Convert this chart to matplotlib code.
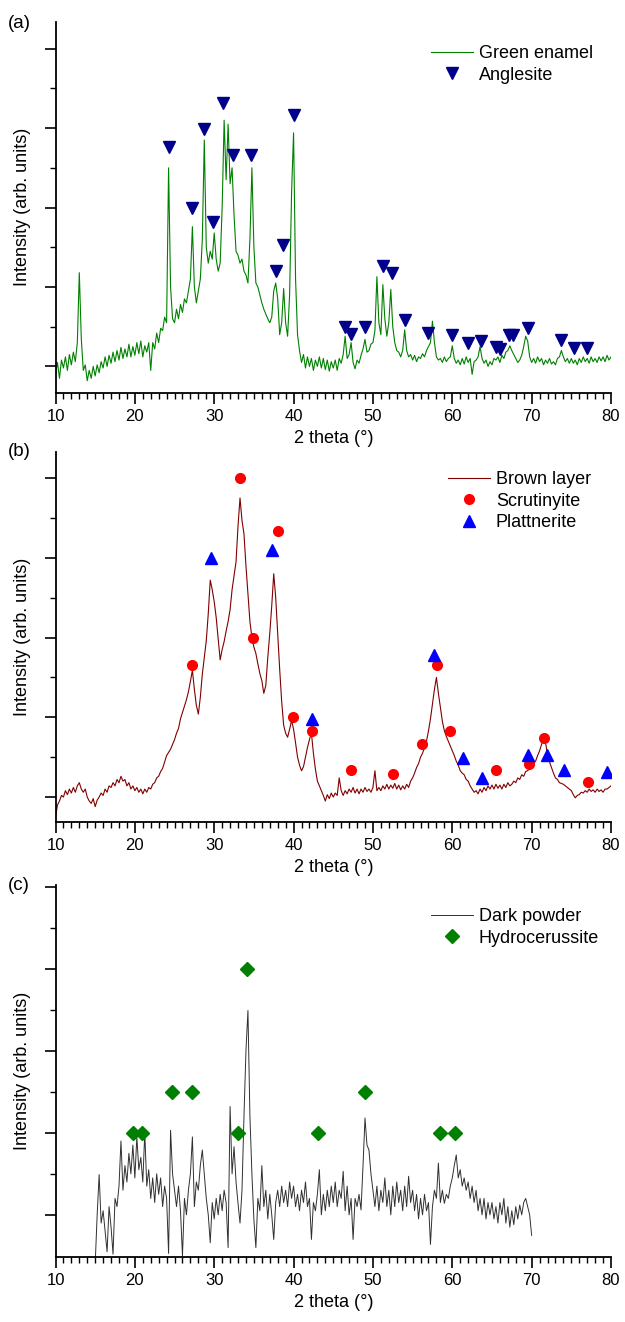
import matplotlib.pyplot as plt
import numpy as np

plt.rcParams['font.family'] = ['Liberation Sans', 'DejaVu Sans']

# 2 theta sampling of the read-off patterns (0.25 deg steps)
theta_ab = np.arange(10, 80.001, 0.25)
theta_c = np.arange(15, 70.001, 0.25)

# (a) Green enamel, 10..80 deg
green_enamel = [
    -0.10, 0.05, -0.15, 0.08, -0.02, 0.12, -0.05, 0.15, 0.02, 0.18, 0.06, 0.30, 1.18, 0.35, -0.05, 0.02, -0.18, -0.05, -0.15, 0.00,
    -0.12, 0.02, -0.08, 0.06, -0.02, 0.12, 0.00, 0.14, 0.04, 0.18, 0.06, 0.20, 0.08, 0.24, 0.10, 0.22, 0.12, 0.28, 0.12, 0.25,
    0.14, 0.30, 0.16, 0.32, 0.12, 0.26, 0.18, 0.30, -0.05, 0.30, 0.22, 0.42, 0.30, 0.48, 0.45, 0.62, 0.55, 2.50, 1.00, 0.60,
    0.55, 0.72, 0.60, 0.78, 0.68, 0.85, 0.80, 0.95, 1.10, 1.76, 1.00, 0.80, 0.95, 1.10, 1.60, 2.85, 1.50, 1.30, 1.45, 1.35,
    1.68, 1.35, 1.20, 1.30, 2.00, 3.10, 2.35, 3.05, 2.30, 2.50, 1.90, 1.45, 1.40, 1.30, 1.35, 1.20, 1.15, 1.05, 1.60, 2.50,
    1.50, 1.05, 1.00, 0.90, 0.80, 0.72, 0.66, 0.60, 0.55, 0.62, 0.95, 1.05, 0.85, 0.40, 0.55, 0.98, 0.55, 0.38, 0.90, 2.20,
    2.94, 1.10, 0.40, 0.20, 0.05, 0.15, -0.02, 0.12, 0.00, 0.10, -0.05, 0.08, 0.00, 0.12, -0.02, 0.10, -0.04, 0.08, -0.06, 0.06,
    -0.02, 0.08, -0.05, 0.10, 0.04, 0.15, 0.38, 0.10, 0.15, 0.30, 0.05, -0.03, 0.08, 0.04, 0.14, 0.22, 0.34, 0.18, 0.20, 0.28,
    0.30, 0.45, 1.13, 0.55, 0.40, 1.03, 0.60, 0.38, 0.55, 0.97, 0.50, 0.30, 0.20, 0.18, 0.12, 0.20, 0.46, 0.20, 0.12, 0.15,
    0.08, 0.14, 0.06, 0.12, 0.10, 0.16, 0.12, 0.20, 0.25, 0.30, 0.57, 0.30, 0.12, 0.08, 0.10, 0.05, 0.12, 0.06, 0.10, 0.12,
    0.26, 0.10, 0.04, 0.08, 0.02, 0.10, 0.03, 0.12, 0.05, 0.10, -0.10, 0.06, 0.08, 0.12, 0.25, 0.10, 0.04, 0.08, 0.00, 0.06,
    0.02, 0.10, 0.08, 0.12, 0.05, 0.14, 0.10, 0.18, 0.20, 0.26, 0.20, 0.15, 0.10, 0.05, 0.08, 0.14, 0.25, 0.38, 0.32, 0.12,
    0.05, 0.10, 0.04, 0.12, 0.06, 0.10, 0.02, 0.08, 0.04, 0.10, 0.03, 0.06, 0.02, 0.10, 0.12, 0.20, 0.12, 0.06, 0.10, 0.04,
    0.10, 0.04, 0.08, 0.02, 0.10, 0.05, 0.12, 0.06, 0.10, 0.04, 0.12, 0.06, 0.10, 0.05, 0.12, 0.07, 0.12, 0.06, 0.14, 0.08,
    0.12,
]

# (b) Brown layer, 10..80 deg
brown_layer = [
    -0.25, -0.10, -0.05, 0.02, 0.00, 0.08, 0.03, 0.10, 0.05, 0.12, 0.06, 0.14, 0.18, 0.10, 0.06, 0.10, 0.00, -0.05, -0.08, -0.02,
    -0.12, -0.04, 0.00, 0.05, 0.02, 0.10, 0.06, 0.14, 0.12, 0.18, 0.14, 0.22, 0.18, 0.26, 0.20, 0.22, 0.14, 0.18, 0.10, 0.14,
    0.08, 0.12, 0.06, 0.10, 0.04, 0.10, 0.06, 0.12, 0.10, 0.16, 0.18, 0.24, 0.26, 0.32, 0.36, 0.44, 0.52, 0.56, 0.60, 0.66,
    0.72, 0.80, 0.86, 0.98, 1.06, 1.14, 1.22, 1.32, 1.45, 1.59, 1.35, 1.15, 1.04, 1.25, 1.54, 1.75, 1.96, 2.30, 2.72, 2.60,
    2.45, 2.25, 1.98, 1.72, 1.85, 1.95, 2.08, 2.20, 2.35, 2.60, 2.78, 2.95, 3.40, 3.75, 3.47, 3.30, 2.90, 2.55, 2.20, 2.00,
    1.88, 1.80, 1.67, 1.55, 1.46, 1.30, 1.40, 1.75, 2.05, 2.40, 2.80, 2.50, 2.05, 1.60, 1.20, 0.90, 0.80, 0.75, 0.85, 0.96,
    0.85, 0.68, 0.50, 0.40, 0.33, 0.38, 0.50, 0.62, 0.72, 0.80, 0.55, 0.35, 0.20, 0.14, 0.08, 0.02, -0.05, 0.03, -0.02, 0.05,
    0.00, 0.05, 0.02, 0.24, 0.08, 0.02, 0.08, 0.04, 0.10, 0.06, 0.12, 0.05, 0.10, 0.04, 0.10, 0.06, 0.12, 0.07, 0.10, 0.06,
    0.12, 0.33, 0.08, 0.12, 0.08, 0.14, 0.10, 0.16, 0.10, 0.15, 0.11, 0.17, 0.10, 0.15, 0.09, 0.14, 0.10, 0.16, 0.12, 0.20,
    0.24, 0.30, 0.37, 0.42, 0.50, 0.55, 0.62, 0.70, 0.83, 0.98, 1.17, 1.35, 1.50, 1.30, 1.12, 0.95, 0.83, 0.76, 0.70, 0.64,
    0.58, 0.52, 0.45, 0.40, 0.33, 0.30, 0.28, 0.22, 0.20, 0.14, 0.10, 0.06, 0.08, 0.04, 0.10, 0.06, 0.12, 0.08, 0.14, 0.10,
    0.15, 0.10, 0.16, 0.11, 0.15, 0.10, 0.16, 0.12, 0.18, 0.14, 0.16, 0.20, 0.18, 0.24, 0.22, 0.28, 0.26, 0.32, 0.33, 0.36,
    0.37, 0.42, 0.45, 0.52, 0.58, 0.66, 0.75, 0.68, 0.54, 0.44, 0.37, 0.30, 0.24, 0.22, 0.18, 0.17, 0.16, 0.14, 0.12, 0.10,
    0.08, 0.03, -0.01, 0.02, 0.03, 0.06, 0.05, 0.08, 0.06, 0.10, 0.07, 0.09, 0.06, 0.10, 0.07, 0.09, 0.06, 0.10, 0.10, 0.12,
    0.14,
]

# (c) Dark powder, 15..70 deg
dark_powder = [
    -0.60, 0.00, 0.49, -0.10, 0.05, -0.20, -0.45, 0.10, -0.15, -0.48, 0.20, 0.10, 0.35, 0.90, 0.30, 0.60, 0.40, 0.75, 0.50, 0.85,
    0.45, 0.95, 0.55, 0.70, 0.40, 1.00, 0.35, 0.55, 0.20, 0.45, 0.15, 0.50, 0.25, 0.45, 0.10, 0.35, 0.20, -0.47, 1.03, 0.50,
    0.30, 0.10, 0.35, 0.05, -0.50, 0.20, 0.00, 0.30, 0.50, 0.95, 0.10, 0.40, 0.30, 0.60, 0.79, 0.50, 0.20, 0.00, -0.34, 0.15,
    -0.05, 0.20, 0.00, 0.25, 0.05, 0.30, 0.15, -0.40, 1.32, 0.50, 0.83, 0.40, 0.14, -0.10, 0.30, 1.20, 2.00, 2.49, 1.20, 0.50,
    -0.06, -0.40, 0.20, 0.05, 0.60, 0.10, 0.30, -0.05, 0.25, 0.00, -0.30, 0.15, 0.30, 0.10, 0.35, 0.15, 0.30, 0.10, 0.40, 0.20,
    0.35, 0.10, 0.25, 0.05, 0.30, 0.15, 0.40, 0.10, 0.20, -0.30, 0.15, 0.05, 0.25, 0.55, 0.00, 0.25, 0.05, 0.30, 0.10, 0.35,
    0.15, 0.40, 0.10, 0.30, 0.20, 0.53, 0.05, 0.35, 0.00, 0.20, -0.30, 0.20, 0.10, 0.25, 0.06, 0.60, 1.18, 0.85, 0.79, 0.50,
    0.30, 0.10, 0.35, 0.05, 0.30, 0.15, 0.45, 0.10, 0.30, 0.00, 0.35, 0.10, 0.40, 0.15, 0.30, 0.05, 0.35, 0.10, 0.47, 0.15,
    0.30, 0.05, 0.25, -0.05, 0.20, 0.00, 0.25, 0.05, 0.15, -0.36, 0.10, 0.30, 0.20, 0.63, 0.15, 0.30, 0.14, 0.25, 0.20, 0.35,
    0.45, 0.60, 0.73, 0.45, 0.55, 0.35, 0.45, 0.30, 0.40, 0.20, 0.35, 0.15, 0.30, 0.05, 0.20, 0.00, 0.20, -0.05, 0.15, 0.00,
    0.15, -0.05, 0.10, -0.10, 0.15, 0.00, 0.20, -0.10, 0.10, -0.15, 0.05, -0.12, 0.10, -0.05, 0.12, 0.00, 0.15, 0.20, 0.10, 0.00,
    -0.25,
]

# reference phase positions
anglesite_x = [24.25, 27.16, 28.67, 29.87, 31.17, 32.33, 34.69, 37.75, 38.70, 40.0,
               46.43, 47.23, 48.94, 51.29, 52.40, 54.05, 56.96, 59.92, 61.93, 63.59,
               65.54, 65.95, 67.15, 67.65, 69.56, 73.72, 75.33, 76.93]
anglesite_y = [2.76, 1.99, 2.99, 1.82, 3.32, 2.66, 2.66, 1.20, 1.53, 3.16,
               0.49, 0.41, 0.49, 1.26, 1.17, 0.59, 0.42, 0.39, 0.29, 0.32,
               0.24, 0.22, 0.39, 0.39, 0.48, 0.33, 0.23, 0.23]

scrutinyite_x = [27.18, 33.2, 34.95, 38.0, 39.96, 42.36, 47.27, 52.58, 56.14, 58.1,
                 59.7, 65.56, 69.72, 71.57, 77.08]
scrutinyite_y = [1.66, 4.0, 2.0, 3.34, 1.0, 0.83, 0.34, 0.29, 0.67, 1.66,
                 0.83, 0.34, 0.42, 0.74, 0.19]

plattnerite_x = [29.59, 37.3, 42.36, 57.7, 61.35, 63.8, 69.57, 71.93, 74.03, 79.49]
plattnerite_y = [3.0, 3.1, 0.98, 1.78, 0.49, 0.24, 0.53, 0.53, 0.34, 0.31]

hydrocerussite_x = [19.8, 20.95, 24.7, 27.2, 33.0, 34.15, 43.1, 49.05, 58.5, 60.4]
hydrocerussite_y = [1.0, 1.0, 1.5, 1.5, 1.0, 3.0, 1.0, 1.5, 1.0, 1.0]


def style_axis(ax, ylim, minor_y):
    ax.set_xlim(10, 80)
    ax.set_ylim(*ylim)
    for side in ['top', 'right']:
        ax.spines[side].set_visible(False)
    for side in ['left', 'bottom']:
        ax.spines[side].set_linewidth(1.3)
    ax.set_xticks(np.arange(10, 81, 10))
    ax.set_xticks(np.arange(10, 81, 1), minor=True)
    ax.set_yticks([0, 1, 2, 3, 4])
    ax.set_yticks(minor_y, minor=True)
    ax.set_yticklabels([])
    ax.tick_params(which='major', direction='out', length=8, width=1.2,
                   labelsize=12, pad=4)
    ax.tick_params(which='minor', direction='out', length=4, width=1.0)
    ax.set_xlabel('2 theta (°)', fontsize=13, labelpad=4)
    ax.set_ylabel('Intensity (arb. units)', fontsize=13)
    ax.yaxis.set_label_coords(-0.045, 0.5)


def add_legend(ax, fig, left_px, top_px):
    ax.legend(loc='upper left', bbox_to_anchor=(left_px / 625, 1 - top_px / 1322),
              bbox_transform=fig.transFigure, frameon=False, fontsize=13,
              borderpad=0, borderaxespad=0, handlelength=2.3,
              handletextpad=0.35, labelspacing=0.25, numpoints=1)


fig = plt.figure(figsize=(6.25, 13.22), dpi=100)
ax_a = fig.add_axes([0.0888, 0.7030, 0.8888, 0.2806])
ax_b = fig.add_axes([0.0888, 0.3784, 0.8888, 0.2799])
ax_c = fig.add_axes([0.0888, 0.0494, 0.8888, 0.2812])

# (a)
ax_a.plot(theta_ab, green_enamel, color='#008000', lw=0.8, label='Green enamel')
ax_a.plot(anglesite_x, anglesite_y, 'v', color='#00008B', ms=8.5, ls='none',
          label='Anglesite')
style_axis(ax_a, (-0.33, 4.34), [0.5, 1.5, 2.5, 3.5])
add_legend(ax_a, fig, 431, 45)

# (b)
ax_b.plot(theta_ab, brown_layer, color='#800000', lw=0.8, label='Brown layer')
ax_b.plot(scrutinyite_x, scrutinyite_y, 'o', color='#FF0000', ms=7, ls='none',
          label='Scrutinyite')
ax_b.plot(plattnerite_x, plattnerite_y, '^', color='#0000FF', ms=8.5, ls='none',
          label='Plattnerite')
style_axis(ax_b, (-0.31, 4.33), [0.5, 1.5, 2.5, 3.5])
add_legend(ax_b, fig, 448, 471)

# (c)
ax_c.plot(theta_c, dark_powder, color='#303030', lw=0.7, label='Dark powder')
ax_c.plot(hydrocerussite_x, hydrocerussite_y, 'D', color='#008000', ms=7, ls='none',
          label='Hydrocerussite')
style_axis(ax_c, (-0.51, 4.02), [0.5, 1.5, 2.5, 3.5])
add_legend(ax_c, fig, 431, 908)

fig.text(8 / 625, 1 - 24 / 1322, '(a)', fontsize=13.5, va='center', ha='left')
fig.text(8 / 625, 1 - 452 / 1322, '(b)', fontsize=13.5, va='center', ha='left')
fig.text(8 / 625, 1 - 886 / 1322, '(c)', fontsize=13.5, va='center', ha='left')

fig.savefig('out.png', dpi=100)
